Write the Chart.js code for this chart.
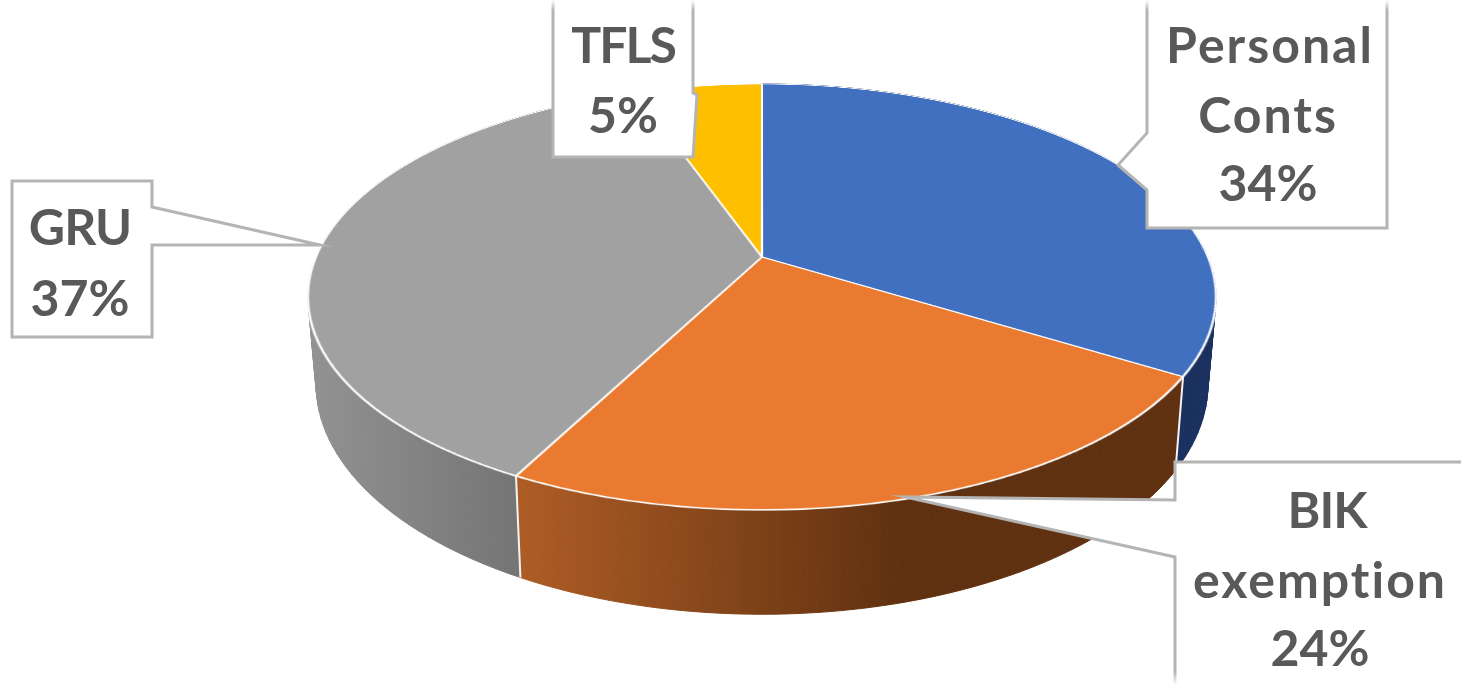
<!DOCTYPE html>
<html>
<head>
<meta charset="utf-8">
<script src="https://cdn.jsdelivr.net/npm/chart.js@4/dist/chart.umd.min.js"></script>
<style>
    html, body { margin: 0; background: #fff; }
    #stage { position: relative; width: 1461px; height: 685px; overflow: hidden; background: #fff; filter: blur(0.6px); }
    #stage canvas { position: absolute; left: 0; top: 0; }
    #pieChart { transform-origin: 0 0; }
</style>
</head>
<body>
<div id="stage">
    <canvas id="wall" width="1461" height="685"></canvas>
    <canvas id="pieChart" width="800" height="800"></canvas>
    <canvas id="callouts" width="1461" height="685"></canvas>
</div>
<script>
const categories = ['Personal Conts', 'BIK exemption', 'GRU', 'TFLS'];
const shares = [33.8, 23.8, 37, 5.4];
const sliceColors = ['#4170C0', '#E97A2F', '#A1A1A1', '#FDBF00'];

// the pie is flat on the canvas, these tilt it like the 3D pie in the picture
const centerX = 762;
const tilt = 0.1878;
const topFace = { a: 446, p: 157.2, q: 257 };
const lowFace = { a: 438, p: 157.9, q: 341 };

const wallFills = [
    { from: 1170, to: 1215, stops: ['#1a305f', '#1a305f'] },
    { from: 524, to: 900, stops: ['#ad5c25', '#603110'] },
    { from: 310, to: 524, stops: ['#929292', '#747474'] }
];

const calloutShapes = [
    [[1147, -6], [1147, 133], [1118, 165], [1147, 190], [1147, 228], [1387, 228], [1387, -6]],
    [[1470, 462], [1175, 462], [1175, 500], [905, 497], [1175, 557], [1175, 700], [1470, 700]],
    [[12, 181], [152, 181], [152, 207], [320, 245], [152, 245], [152, 337], [12, 337]],
    [[553, -6], [693, -6], [693, 93], [697, 95], [693, 157], [553, 157]]
];
const calloutText = [
    [[1270, 47], [1268, 117], [1268, 185]],
    [[1327, 512], [1320, 582], [1320, 650]],
    [[80, 229], [80, 300]],
    [[623, 47], [623, 117]]
];
// Lato is wider in capitals and narrower in lowercase than the picture's font
const calloutSpacing = [
    ['2px', '2px', '0px'],
    ['-1px', '2px', '0px'],
    ['-1px', '0px'],
    ['-2px', '0px']
];

function project(angle, face) {
    const u = Math.cos(angle);
    const v = Math.sin(angle);
    const w = 1 - tilt * v;
    return [centerX + face.a * u / w, (face.p * v + face.q) / w];
}

function drawWalls(chart) {
    const ctx = document.getElementById('wall').getContext('2d');
    const arcs = chart.getDatasetMeta(0).data;
    ctx.clearRect(0, 0, 1461, 685);
    wallFills.forEach((fill, i) => {
        const arc = arcs[i];
        const grad = ctx.createLinearGradient(fill.from, 0, fill.to, 0);
        grad.addColorStop(0, fill.stops[0]);
        grad.addColorStop(1, fill.stops[1]);
        ctx.fillStyle = grad;
        ctx.strokeStyle = grad;
        ctx.lineWidth = 1;
        // small quads so the outline follows the tangent between both faces
        for (let s = 0; s < 80; s++) {
            const a0 = arc.startAngle + (arc.endAngle - arc.startAngle) * s / 80;
            const a1 = arc.startAngle + (arc.endAngle - arc.startAngle) * (s + 1) / 80;
            const quad = [project(a0, topFace), project(a1, topFace), project(a1, lowFace), project(a0, lowFace)];
            ctx.beginPath();
            quad.forEach((pt, n) => n ? ctx.lineTo(pt[0], pt[1]) : ctx.moveTo(pt[0], pt[1]));
            ctx.closePath();
            ctx.fill();
            ctx.stroke();
        }
    });
    // white lines between the walls
    ctx.strokeStyle = '#f4f4f4';
    ctx.lineWidth = 2;
    wallFills.forEach((fill, i) => {
        const a = project(arcs[i].endAngle, topFace);
        const b = project(arcs[i].endAngle, lowFace);
        ctx.beginPath();
        ctx.moveTo(a[0], a[1]);
        ctx.lineTo(b[0], b[1]);
        ctx.stroke();
    });
}

function drawCallouts() {
    const ctx = document.getElementById('callouts').getContext('2d');
    const total = shares.reduce((a, b) => a + b, 0);
    ctx.lineJoin = 'miter';
    calloutShapes.forEach((shape, i) => {
        ctx.beginPath();
        shape.forEach((pt, n) => n ? ctx.lineTo(pt[0], pt[1]) : ctx.moveTo(pt[0], pt[1]));
        ctx.closePath();
        ctx.fillStyle = '#fff';
        ctx.fill();
        ctx.strokeStyle = '#b4b4b4';
        ctx.lineWidth = 3;
        ctx.stroke();

        const lines = categories[i].split(' ').concat(Math.round(shares[i] / total * 100) + '%');
        ctx.fillStyle = '#595959';
        ctx.font = '700 50px Lato';
        ctx.textAlign = 'center';
        ctx.textBaseline = 'middle';
        lines.forEach((line, n) => {
            ctx.letterSpacing = calloutSpacing[i][n];
            ctx.fillText(line, calloutText[i][n][0], calloutText[i][n][1]);
        });
    });

    // the crop of the picture fades out at the top and bottom
    let fade = ctx.createLinearGradient(0, 0, 0, 10);
    fade.addColorStop(0, 'rgba(255,255,255,1)');
    fade.addColorStop(1, 'rgba(255,255,255,0)');
    ctx.fillStyle = fade;
    ctx.fillRect(0, 0, 1461, 10);
    fade = ctx.createLinearGradient(0, 672, 0, 685);
    fade.addColorStop(0, 'rgba(255,255,255,0)');
    fade.addColorStop(1, 'rgba(255,255,255,1)');
    ctx.fillStyle = fade;
    ctx.fillRect(0, 672, 1461, 13);
}

const tiltPlugin = {
    id: 'tilt',
    afterDraw(chart) {
        const arc = chart.getDatasetMeta(0).data[0];
        const s = 1 / arc.outerRadius;
        const x0 = arc.x;
        const y0 = arc.y;
        const w0 = 1 + tilt * s * y0;
        const m = [
            topFace.a * s, 0, 0, 0,
            -centerX * tilt * s, topFace.p * s, 0, -tilt * s,
            0, 0, 1, 0,
            centerX * w0 - topFace.a * s * x0, topFace.q - topFace.p * s * y0, 0, w0
        ];
        chart.canvas.style.transform = 'matrix3d(' + m.join(',') + ')';
        drawWalls(chart);
    }
};

const chart1 = new Chart(document.getElementById('pieChart'), {
    type: 'pie',
    data: {
        labels: categories,
        datasets: [{
            data: shares,
            backgroundColor: sliceColors,
            borderColor: '#fff',
            borderWidth: 2
        }]
    },
    options: {
        responsive: false,
        devicePixelRatio: 2,
        animation: false,
        plugins: { legend: { display: false }, tooltip: { enabled: false } }
    },
    plugins: [tiltPlugin]
});

drawCallouts();
</script>
</body>
</html>
